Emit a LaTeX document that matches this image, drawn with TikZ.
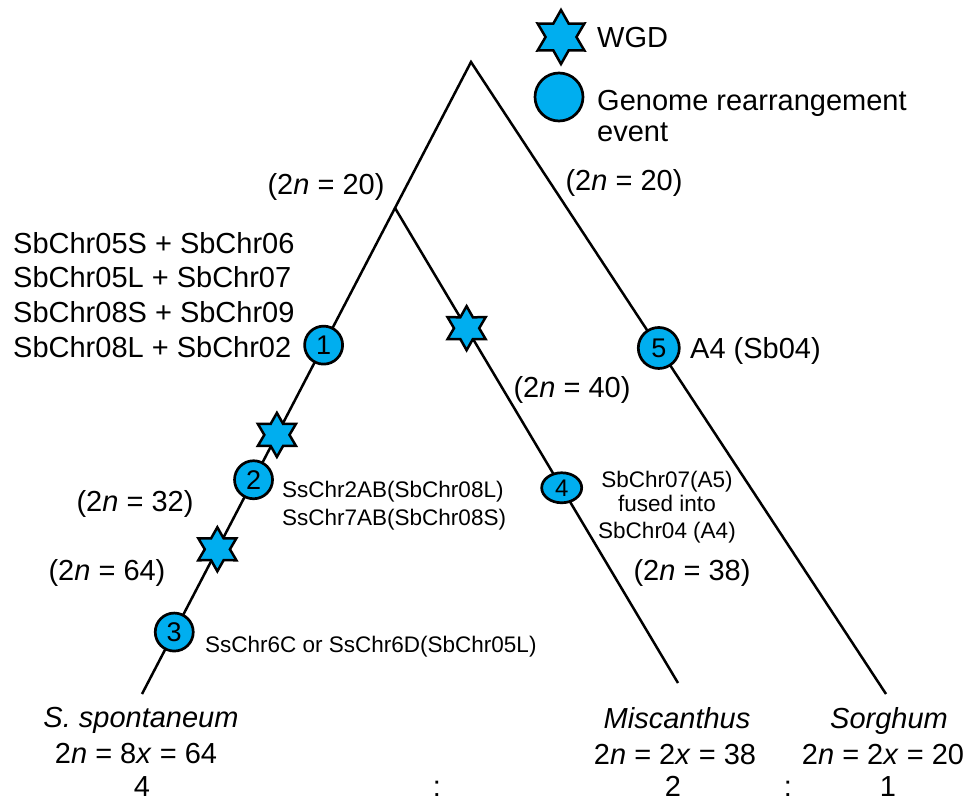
\documentclass[tikz,border=0pt]{standalone}
\usepackage{fontspec}
\setmainfont{Liberation Sans}
\usetikzlibrary{shapes.geometric,calc}
\definecolor{evblue}{RGB}{0,174,239}
\begin{document}
\begin{tikzpicture}[x=1pt,y=-1pt,
  branch/.style={line width=2.5pt, line join=miter},
  evcirc/.style={circle, draw, line width=2.7pt, fill=evblue, minimum size=38pt, inner sep=0pt, font=\fontsize{27}{30}\selectfont},
  wgdstar/.style={star, star points=6, star point ratio=1.75, draw, line width=2.5pt, line join=miter, fill=evblue, minimum size=44pt, inner sep=0pt},
  big/.style={font=\fontsize{29}{34}\selectfont, inner sep=0pt},
  small/.style={font=\fontsize{22.5}{27}\selectfont, inner sep=0pt},
  spc/.style={font=\fontsize{29}{35}\selectfont, inner sep=0pt},
]
\useasboundingbox (0,0) rectangle (971,803);
% tree skeleton
\coordinate (root) at (471,62);
\coordinate (spEnd) at (142,694);
\coordinate (miEnd) at (678,683);
\coordinate (soEnd) at (886,694);
\coordinate (junc) at ($(root)!0.231!(spEnd)$);
\draw[branch] (spEnd) -- (root) -- (soEnd);
\draw[branch] (junc) -- (miEnd);
% events
\node[evcirc] (c1) at ($(root)!0.448!(spEnd)$) {1};
\node[wgdstar] (s1) at ($(root)!0.590!(spEnd)$) {};
\node[evcirc] (c2) at ($(root)!0.661!(spEnd)$) {2};
\node[wgdstar] (s2) at ($(root)!0.771!(spEnd)$) {};
\node[evcirc] (c3) at ($(root)!0.902!(spEnd)$) {3};
\node[wgdstar] (s3) at ($(junc)!0.253!(miEnd)$) {};
\node[evcirc, ellipse, minimum width=40pt, minimum height=30pt, font=\fontsize{24}{27}\selectfont] (c4) at ($(junc)!0.589!(miEnd)$) {4};
\node[evcirc, minimum size=41pt] (c5) at ($(root)!0.4525!(soEnd)$) {5};
% legend
\node[wgdstar, minimum size=54pt] (lgstar) at (561,37) {};
\node[evcirc, minimum size=48pt] (lgcirc) at (559,97) {};
\node[big, anchor=base west] (lgwgd) at (597,47) {WGD};
\node[big, anchor=base west] (lggen1) at (597,110) {Genome rearrangement};
\node[big, anchor=base west] (lggen2) at (597,141) {event};
% chromosome numbers
\node[big, anchor=base] (n20a) at (326,194) {(2\textit{n} = 20)};
\node[big, anchor=base] (n20b) at (624,190) {(2\textit{n} = 20)};
\node[big, anchor=base] (n40) at (572,397) {(2\textit{n} = 40)};
\node[big, anchor=base] (n38) at (692,580) {(2\textit{n} = 38)};
\node[big, anchor=base] (n32) at (135,511) {(2\textit{n} = 32)};
\node[big, anchor=base] (n64) at (107,580) {(2\textit{n} = 64)};
% event labels
\node[big, anchor=base west] (e1a) at (13,253) {SbChr05S + SbChr06};
\node[big, anchor=base west] (e1b) at (13,287) {SbChr05L + SbChr07};
\node[big, anchor=base west] (e1c) at (13,322) {SbChr08S + SbChr09};
\node[big, anchor=base west] (e1d) at (13,357) {SbChr08L + SbChr02};
\node[big, anchor=base west] (e5) at (690,358) {A4 (Sb04)};
\node[small, anchor=base west] (e2a) at (282,497) {SsChr2AB(SbChr08L)};
\node[small, anchor=base west] (e2b) at (282,525) {SsChr7AB(SbChr08S)};
\node[small, anchor=base west] (e3) at (205,652) {SsChr6C or SsChr6D(SbChr05L)};
\node[small, anchor=base] (e4a) at (667,487) {SbChr07(A5)};
\node[small, anchor=base] (e4b) at (667,511) {fused into};
\node[small, anchor=base] (e4c) at (667,538) {SbChr04 (A4)};
% species
\node[spc, anchor=base] (spn) at (141,727) {\itshape S. spontaneum};
\node[spc, anchor=base] (spk) at (136,763) {2\textit{n} = 8\textit{x} = 64};
\node[spc, anchor=base] (spr) at (142,796) {4};
\node[spc, anchor=base] (col1) at (437,796) {:};
\node[spc, anchor=base] (min) at (677,728) {\itshape Miscanthus};
\node[spc, anchor=base] (mik) at (675,764) {2\textit{n} = 2\textit{x} = 38};
\node[spc, anchor=base] (mir) at (673,796) {2};
\node[spc, anchor=base] (col2) at (788,796) {:};
\node[spc, anchor=base] (son) at (889,728) {\itshape Sorghum};
\node[spc, anchor=base] (sok) at (883,764) {2\textit{n} = 2\textit{x} = 20};
\node[spc, anchor=base] (sor) at (888,796) {1};
\end{tikzpicture}
\end{document}
